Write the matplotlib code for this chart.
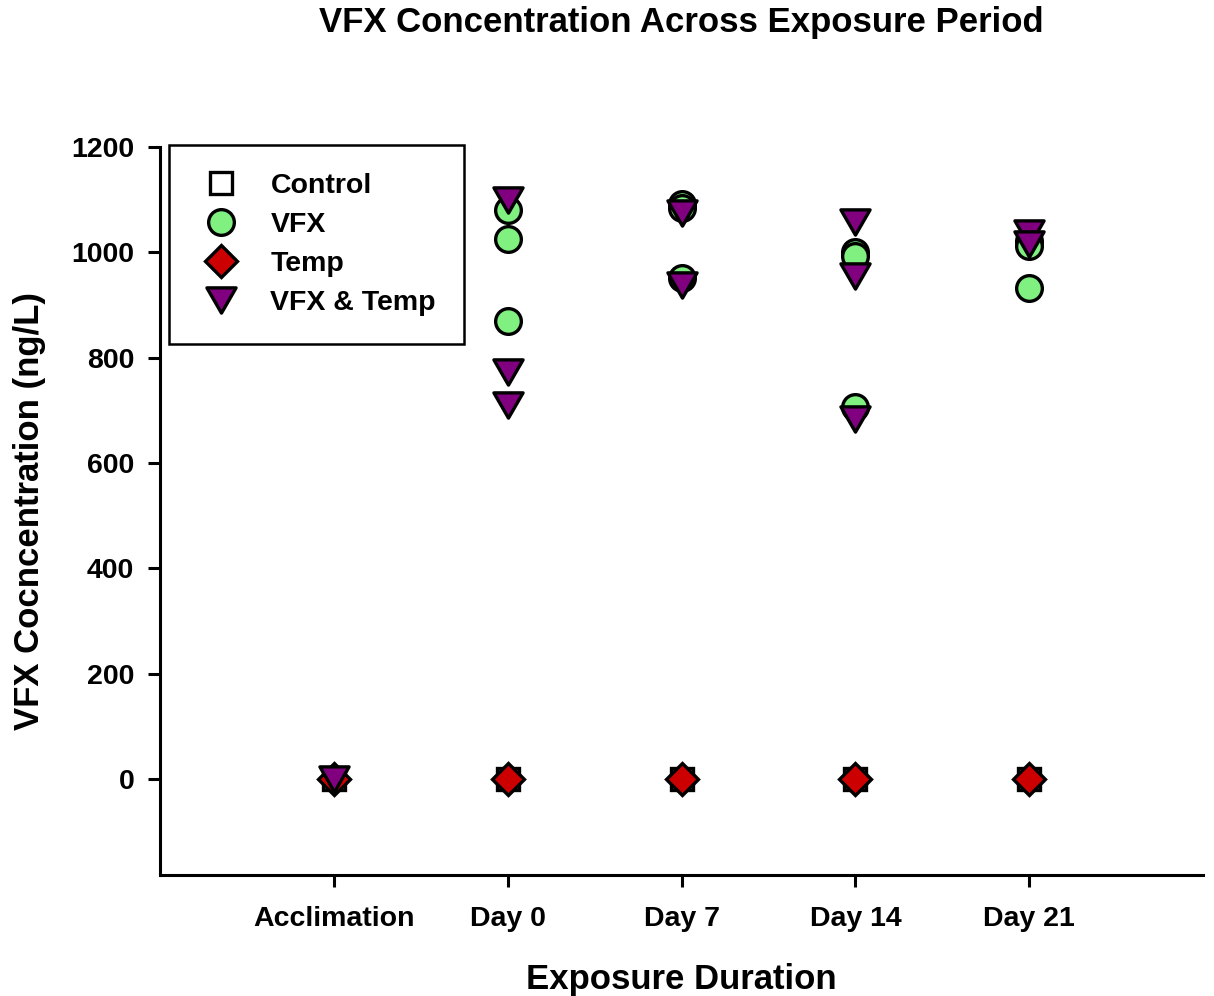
import matplotlib
matplotlib.use("Agg")
import matplotlib.pyplot as plt
from matplotlib.path import Path

plt.rcParams['font.family'] = ['Liberation Sans', 'DejaVu Sans']
plt.rcParams['font.weight'] = 'bold'

categories = ["Acclimation", "Day 0", "Day 7", "Day 14", "Day 21"]

control_days = ["Acclimation", "Day 0", "Day 7", "Day 14", "Day 21"]
control_vals = [0, 0, 0, 0, 0]

vfx_days = ["Day 0", "Day 0", "Day 0", "Day 7", "Day 7", "Day 7",
            "Day 14", "Day 14", "Day 14", "Day 21", "Day 21", "Day 21"]
vfx_vals = [1080, 1025, 870, 1092, 1084, 951, 1001, 993, 706, 1022, 1013, 932]

temp_days = ["Acclimation", "Day 0", "Day 7", "Day 14", "Day 21"]
temp_vals = [0, 0, 0, 0, 0]

vt_days = ["Acclimation", "Day 0", "Day 0", "Day 0", "Day 7", "Day 7",
           "Day 14", "Day 14", "Day 14", "Day 21", "Day 21"]
vt_vals = [0, 1100, 773, 710, 1075, 938, 1058, 955, 683, 1037, 1015]

yticks = [0, 200, 400, 600, 800, 1000, 1200]

fig = plt.figure(figsize=(12.14, 9.96), dpi=100)
ax = fig.add_axes([0.1318, 0.1215, 0.8592, 0.7309])

tri_down = Path([(-1, 0.866), (1, 0.866), (0, -0.866), (-1, 0.866)],
                [Path.MOVETO, Path.LINETO, Path.LINETO, Path.CLOSEPOLY])

idx = {c: i for i, c in enumerate(categories)}
mew = 2.4
series = [
    ("Control", control_days, control_vals, 's', 'white', 16.5),
    ("VFX", vfx_days, vfx_vals, 'o', '#80F080', 18.5),
    ("Temp", temp_days, temp_vals, 'D', '#CC0000', 16.5),
    ("VFX & Temp", vt_days, vt_vals, tri_down, '#800080', 21),
]
for name, days, vals, mk, col, size in series:
    ax.plot([idx[d] for d in days], vals, linestyle='none', marker=mk,
            markersize=size, markerfacecolor=col, markeredgecolor='black',
            markeredgewidth=mew, label=name, clip_on=False)

ax.set_xlim(-1, 5)
ax.set_ylim(-182, 1200)
ax.set_xticks(range(len(categories)))
ax.set_xticklabels(categories)
ax.set_yticks(yticks)
for s in ['top', 'right']:
    ax.spines[s].set_visible(False)
for s in ['left', 'bottom']:
    ax.spines[s].set_linewidth(2.2)
ax.tick_params(axis='both', direction='out', length=8.5, width=2.2,
               labelsize=20.5, pad=10)
ax.tick_params(axis='x', pad=14)
for lab in ax.get_xticklabels() + ax.get_yticklabels():
    lab.set_fontweight('bold')

ax.set_xlabel("Exposure Duration", fontsize=25, fontweight='bold', labelpad=22)
ax.set_ylabel("VFX Cocncentration (ng/L)", fontsize=25, fontweight='bold', labelpad=18)
fig.text(0.561, 0.977, "VFX Concentration Across Exposure Period",
         fontsize=25, fontweight='bold', ha='center', va='center')

leg = ax.legend(loc='upper left', bbox_to_anchor=(0.009, 1.003), frameon=True,
                fancybox=False, edgecolor='black', framealpha=1.0,
                fontsize=20.5, markerscale=1.0,
                handletextpad=0.95, borderpad=1.0, labelspacing=0.45,
                handlelength=1.6, borderaxespad=0)
leg.get_frame().set_linewidth(1.8)
for t in leg.get_texts():
    t.set_fontweight('bold')

fig.savefig("out.png", dpi=100)
